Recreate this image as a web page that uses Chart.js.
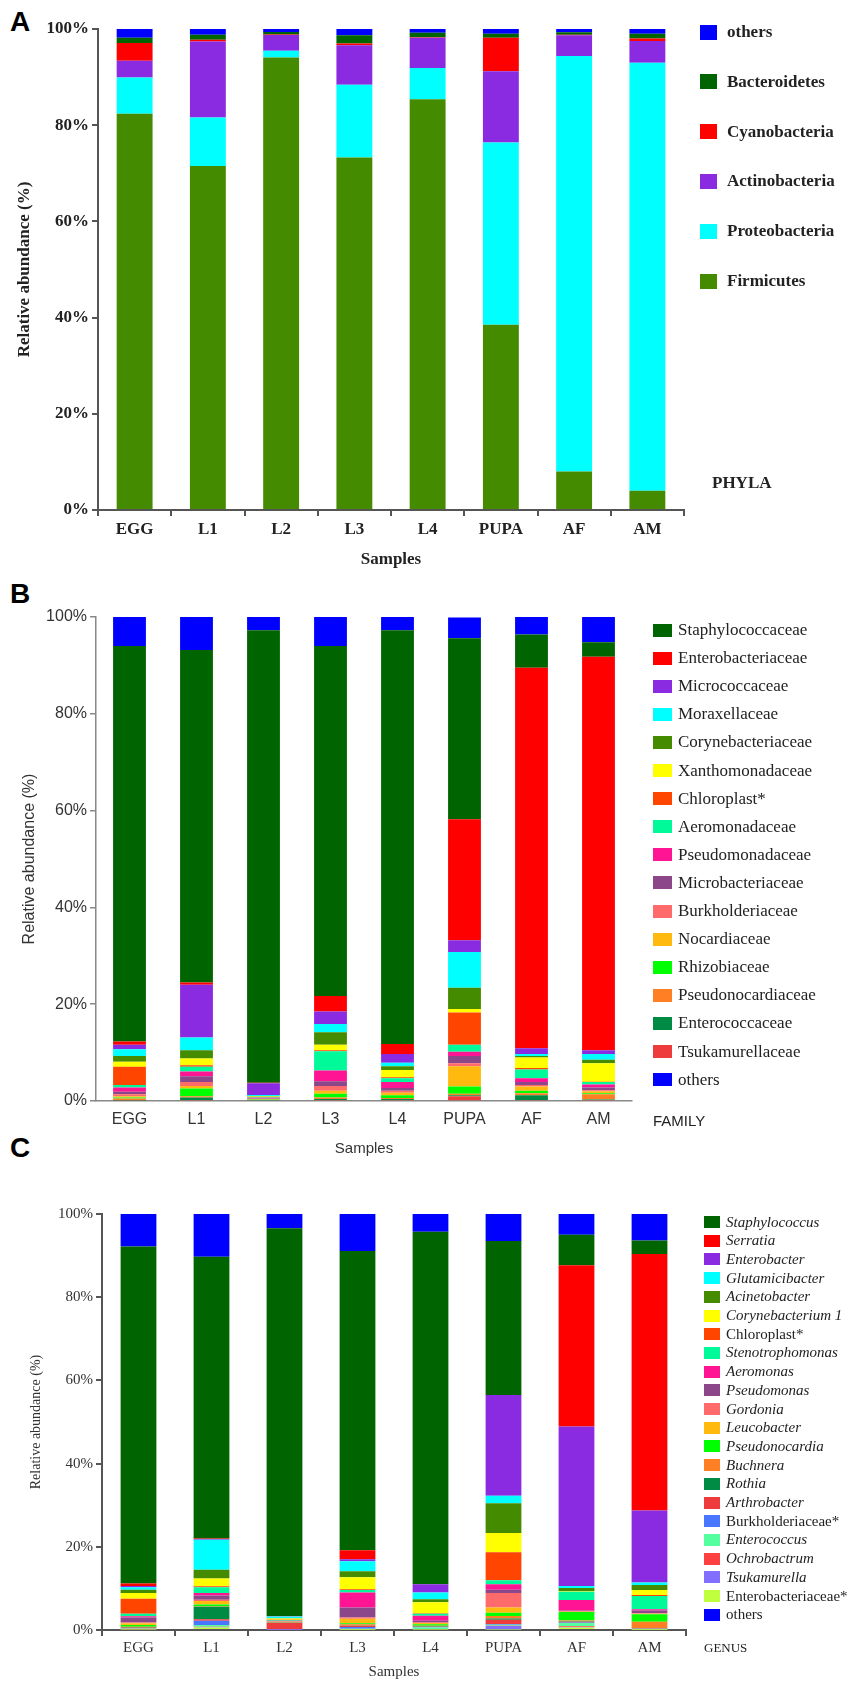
<!DOCTYPE html>
<html>
<head>
<meta charset="utf-8">
<script src="https://cdn.jsdelivr.net/npm/chart.js@4.4.0/dist/chart.umd.min.js"></script>
<style>
  body { margin: 0; width: 854px; height: 1683px; position: relative; background: #fff; overflow: hidden; }
  canvas { position: absolute; left: 0; }
  .letter { position: absolute; left: 10px; font: bold 28px 'Liberation Sans', Arial, sans-serif; color: #000; }
  .item { position: absolute; white-space: nowrap; display: flex; align-items: center; color: #222; }
  .sw { display: inline-block; flex: none; }
  .tag { position: absolute; white-space: nowrap; color: #222; }
</style>
</head>
<body>
<div class="letter" style="top:6px">A</div>
<div class="letter" style="top:578px">B</div>
<div class="letter" style="top:1132px">C</div>

<canvas id="chartA" width="854" height="572" style="top:0px"></canvas>
<canvas id="chartB" width="854" height="580" style="top:580px"></canvas>
<canvas id="chartC" width="854" height="518" style="top:1165px"></canvas>

<div class="tag" style="left:712px; top:473px; font: bold 17px 'Liberation Serif', serif;">PHYLA</div>
<div class="tag" style="left:653px; top:1112px; font: 15px 'Liberation Sans', Arial, sans-serif;">FAMILY</div>
<div class="tag" style="left:704px; top:1640px; font: 13px 'Liberation Serif', serif;">GENUS</div>

<script>
const samples = ['EGG', 'L1', 'L2', 'L3', 'L4', 'PUPA', 'AF', 'AM'];
const percentTicks = [0, 20, 40, 60, 80, 100];

// A - phyla
const firmicutes     = [82.4, 71.5, 94.1, 73.3, 85.4, 38.5, 8.0, 4.0];
const proteobacteria = [7.5, 10.1, 1.4, 15.1, 6.5, 37.9, 86.4, 89.0];
const actinobacteria = [3.5, 15.8, 3.25, 8.2, 6.3, 14.8, 4.3, 4.5];
const cyanobacteria  = [3.7, 0.35, 0.1, 0.4, 0.1, 7.0, 0.1, 0.5];
const bacteroidetes  = [1.1, 1.05, 0.55, 1.7, 0.9, 0.8, 0.5, 1.0];
const phylaOthers    = [1.8, 1.2, 0.6, 1.3, 0.8, 1.0, 0.7, 1.0];

// B - families
const staphylococcaceae  = [81.7, 68.7, 93.5, 72.3, 85.45, 37.4, 6.9, 3.0];
const enterobacteriaceae = [0.7, 0.5, 0.1, 3.2, 2.1, 25.0, 78.6, 81.3];
const micrococcaceae     = [0.9, 10.9, 2.4, 2.6, 1.8, 2.4, 1.2, 0.8];
const moraxellaceae      = [1.4, 2.6, 0.2, 1.7, 0.7, 7.4, 0.4, 1.2];
const corynebacteriaceae = [1.2, 1.7, 0.1, 2.6, 0.8, 4.4, 0.3, 0.7];
const xanthomonadaceae   = [1.0, 1.4, 0.1, 1.1, 1.5, 0.7, 2.2, 3.8];
const chloroplastFam     = [3.8, 0.3, 0.1, 0.2, 0.2, 6.7, 0.3, 0.1];
const aeromonadaceae     = [0.5, 1.0, 0.1, 4.0, 0.8, 1.4, 1.8, 0.5];
const pseudomonadaceae   = [0.9, 1.0, 0.1, 2.2, 1.2, 0.9, 0.8, 0.6];
const microbacteriaceae  = [0.5, 1.2, 0.1, 1.0, 0.6, 1.5, 0.6, 0.6];
const burkholderiaceae   = [0.4, 0.8, 0.05, 1.0, 0.4, 0.6, 0.3, 0.2];
const nocardiaceae       = [0.3, 0.5, 0.05, 0.6, 0.5, 4.2, 0.9, 0.4];
const rhizobiaceae       = [0.2, 1.6, 0.1, 0.8, 0.6, 1.5, 0.5, 0.2];
const pseudonocardiaceae = [0.3, 0.3, 0.05, 0.3, 0.2, 0.3, 0.4, 1.1];
const enterococcaceae    = [0.1, 0.5, 0.05, 0.2, 0.2, 0.2, 1.0, 0.1];
const tsukamurellaceae   = [0.1, 0.2, 0.15, 0.2, 0.2, 1.0, 0.2, 0.2];
const familyOthers       = [6.0, 6.8, 2.75, 6.0, 2.75, 4.3, 3.6, 5.2];

// C - genera
const staphylococcus    = [81.0, 67.7, 93.25, 71.9, 84.75, 37.0, 7.3, 3.2];
const serratia          = [0.6, 0.1, 0.05, 2.2, 0.0, 0.0, 38.8, 61.7];
const enterobacter      = [0.3, 0.2, 0.05, 0.5, 2.0, 24.2, 38.3, 17.3];
const glutamicibacter   = [0.6, 7.2, 0.4, 2.4, 1.6, 1.85, 0.5, 0.6];
const acinetobacter     = [0.8, 2.1, 0.1, 1.4, 0.7, 7.15, 0.8, 1.2];
const corynebacterium1  = [1.4, 1.9, 0.3, 2.9, 2.7, 4.6, 0.1, 1.2];
const chloroplastGen    = [3.6, 0.2, 0.05, 0.2, 0.1, 6.75, 0.0, 0.2];
const stenotrophomonas  = [0.6, 1.4, 0.2, 0.6, 0.5, 0.95, 2.0, 3.2];
const aeromonas         = [0.3, 0.6, 0.1, 3.6, 1.2, 1.35, 2.5, 0.3];
const pseudomonas       = [1.2, 1.0, 0.05, 2.4, 0.4, 0.75, 0.2, 0.7];
const gordonia          = [0.2, 0.3, 0.05, 0.3, 0.1, 3.5, 0.1, 0.1];
const leucobacter       = [0.4, 0.9, 0.05, 1.1, 0.3, 1.25, 0.1, 0.1];
const pseudonocardia    = [0.4, 0.4, 0.1, 0.2, 0.4, 0.8, 2.0, 1.8];
const buchnera          = [0.1, 0.1, 0.05, 0.3, 0.1, 0.6, 0.2, 1.6];
const rothia            = [0.1, 3.0, 0.05, 0.1, 0.1, 0.3, 0.1, 0.05];
const arthrobacter      = [0.1, 0.4, 1.6, 0.3, 0.1, 1.0, 0.2, 0.05];
const burkholderiaceaeG = [0.1, 1.0, 0.05, 0.4, 0.1, 0.2, 0.1, 0.05];
const enterococcus      = [0.1, 0.4, 0.05, 0.1, 0.4, 0.2, 0.8, 0.1];
const ochrobactrum      = [0.1, 0.1, 0.0, 0.05, 0.05, 0.1, 0.2, 0.05];
const tsukamurella      = [0.1, 0.1, 0.05, 0.1, 0.05, 0.8, 0.1, 0.05];
const enterobacteriaceaeG = [0.1, 0.6, 0.0, 0.05, 0.1, 0.15, 0.6, 0.05];
const genusOthers       = [7.9, 10.3, 3.4, 8.9, 4.25, 6.5, 5.0, 6.4];

// series lists, top of stack first (same order as the legends)
const phylaNames  = ['others', 'Bacteroidetes', 'Cyanobacteria', 'Actinobacteria', 'Proteobacteria', 'Firmicutes'];
const phylaColors = ['#0000ff', '#006400', '#ff0000', '#8a2be2', '#00ffff', '#458b00'];
const phylaData   = [phylaOthers, bacteroidetes, cyanobacteria, actinobacteria, proteobacteria, firmicutes];

const familyNames = ['Staphylococcaceae', 'Enterobacteriaceae', 'Micrococcaceae', 'Moraxellaceae', 'Corynebacteriaceae',
  'Xanthomonadaceae', 'Chloroplast*', 'Aeromonadaceae', 'Pseudomonadaceae', 'Microbacteriaceae', 'Burkholderiaceae',
  'Nocardiaceae', 'Rhizobiaceae', 'Pseudonocardiaceae', 'Enterococcaceae', 'Tsukamurellaceae', 'others'];
const familyColors = ['#006400', '#ff0000', '#8a2be2', '#00ffff', '#458b00', '#ffff00', '#ff4500', '#00fa9a', '#ff1493',
  '#8b4789', '#ff6a6a', '#ffb90f', '#00ff00', '#ff7f24', '#008b45', '#ee3b3b', '#0000ff'];
const familyData = [staphylococcaceae, enterobacteriaceae, micrococcaceae, moraxellaceae, corynebacteriaceae,
  xanthomonadaceae, chloroplastFam, aeromonadaceae, pseudomonadaceae, microbacteriaceae, burkholderiaceae,
  nocardiaceae, rhizobiaceae, pseudonocardiaceae, enterococcaceae, tsukamurellaceae, familyOthers];
// stack order for B: others on top, then the legend order
const familyStackTop = [16, 0, 1, 2, 3, 4, 5, 6, 7, 8, 9, 10, 11, 12, 13, 14, 15];

const genusNames = ['Staphylococcus', 'Serratia', 'Enterobacter', 'Glutamicibacter', 'Acinetobacter', 'Corynebacterium 1',
  'Chloroplast*', 'Stenotrophomonas', 'Aeromonas', 'Pseudomonas', 'Gordonia', 'Leucobacter', 'Pseudonocardia',
  'Buchnera', 'Rothia', 'Arthrobacter', 'Burkholderiaceae*', 'Enterococcus', 'Ochrobactrum', 'Tsukamurella',
  'Enterobacteriaceae*', 'others'];
const genusColors = ['#006400', '#ff0000', '#8a2be2', '#00ffff', '#458b00', '#ffff00', '#ff4500', '#00fa9a', '#ff1493',
  '#8b4789', '#ff6a6a', '#ffb90f', '#00ff00', '#ff7f24', '#008b45', '#ee3b3b', '#4876ff', '#54ff9f', '#ff4040',
  '#836fff', '#c0ff3e', '#0000ff'];
const genusData = [staphylococcus, serratia, enterobacter, glutamicibacter, acinetobacter, corynebacterium1,
  chloroplastGen, stenotrophomonas, aeromonas, pseudomonas, gordonia, leucobacter, pseudonocardia, buchnera, rothia,
  arthrobacter, burkholderiaceaeG, enterococcus, ochrobactrum, tsukamurella, enterobacteriaceaeG, genusOthers];
const genusStackTop = [21, 0, 1, 2, 3, 4, 5, 6, 7, 8, 9, 10, 11, 12, 13, 14, 15, 16, 17, 18, 19, 20];
const genusUpright = ['Chloroplast*', 'Burkholderiaceae*', 'Enterobacteriaceae*', 'others'];

Chart.defaults.animation = false;

// bottom of the stack is the first dataset
function buildSets(names, colors, data, topOrder) {
  const order = topOrder || names.map((_, i) => i);
  return order.slice().reverse().map(i => ({
    label: names[i],
    data: data[i],
    backgroundColor: colors[i],
    borderWidth: 0,
    barPercentage: 0.49,
    categoryPercentage: 1.0
  }));
}

function makeChart(id, datasets, s) {
  return new Chart(document.getElementById(id), {
    type: 'bar',
    data: { labels: samples, datasets: datasets },
    options: {
      responsive: false,
      devicePixelRatio: 1,
      layout: { padding: { top: s.top, right: s.right, left: s.left, bottom: 0 } },
      plugins: { legend: { display: false }, tooltip: { enabled: false } },
      scales: {
        x: {
          stacked: true,
          afterFit: a => { a.height = s.xHeight; },
          grid: { display: true, drawOnChartArea: false, drawTicks: s.xTicks, tickLength: 6, color: s.axisColor, lineWidth: s.axisWidth },
          border: { display: true, color: s.axisColor, width: s.axisWidth },
          ticks: { color: s.textColor, font: s.tickFont, padding: s.xTicks ? 3 : 9 },
          title: { display: true, text: 'Samples', color: s.textColor, font: s.titleFont, padding: { top: 0, bottom: 2 } }
        },
        y: {
          stacked: true,
          min: 0, max: 100,
          afterFit: a => { a.width = s.yWidth; },
          afterBuildTicks: a => { a.ticks = percentTicks.map(v => ({ value: v })); },
          grid: { display: true, drawOnChartArea: false, drawTicks: true, tickLength: 6, color: s.axisColor, lineWidth: s.axisWidth },
          border: { display: true, color: s.axisColor, width: s.axisWidth },
          ticks: { color: s.textColor, font: s.tickFont, padding: 3, callback: v => v + '%' },
          title: { display: true, text: 'Relative abundance (%)', color: s.textColor, font: s.yTitleFont, padding: 2 }
        }
      }
    }
  });
}

function drawLegend(names, colors, s) {
  names.forEach((n, i) => {
    const el = document.createElement('div');
    el.className = 'item';
    el.style.left = s.x + 'px';
    el.style.top = (s.y0 + i * s.step - 10) + 'px';
    el.style.height = '20px';
    el.style.font = s.font;
    if (s.italic && !s.italic(n)) el.style.fontStyle = 'normal';
    const sw = document.createElement('span');
    sw.className = 'sw';
    sw.style.width = s.sw + 'px';
    sw.style.height = s.sh + 'px';
    sw.style.background = colors[i];
    sw.style.marginRight = s.gap + 'px';
    el.appendChild(sw);
    el.appendChild(document.createTextNode(n));
    document.body.appendChild(el);
  });
}

const serif = "'Liberation Serif', 'Times New Roman', serif";
const sans = "'Liberation Sans', Arial, sans-serif";

makeChart('chartA', buildSets(phylaNames, phylaColors, phylaData), {
  top: 29, right: 170, left: 12, yWidth: 86, xHeight: 62, xTicks: true,
  axisColor: '#555', axisWidth: 2, textColor: '#222',
  tickFont: { family: serif, size: 17, weight: 'bold' },
  titleFont: { family: serif, size: 17, weight: 'bold' },
  yTitleFont: { family: serif, size: 17, weight: 'bold' }
});

makeChart('chartB', buildSets(familyNames, familyColors, familyData, familyStackTop), {
  top: 37, right: 222, left: 18, yWidth: 78, xHeight: 59, xTicks: false,
  axisColor: '#888', axisWidth: 1.5, textColor: '#333',
  tickFont: { family: sans, size: 16 },
  titleFont: { family: sans, size: 15 },
  yTitleFont: { family: sans, size: 16 }
});

makeChart('chartC', buildSets(genusNames, genusColors, genusData, genusStackTop), {
  top: 49, right: 168, left: 26, yWidth: 76, xHeight: 53, xTicks: true,
  axisColor: '#555', axisWidth: 2, textColor: '#333',
  tickFont: { family: serif, size: 15 },
  titleFont: { family: serif, size: 15 },
  yTitleFont: { family: serif, size: 14 }
});

drawLegend(phylaNames, phylaColors, {
  x: 700, y0: 32, step: 49.8, sw: 17, sh: 15, gap: 10,
  font: "bold 17px " + serif
});
drawLegend(familyNames, familyColors, {
  x: 653, y0: 630, step: 28.1, sw: 19, sh: 13, gap: 6,
  font: "17px " + serif
});
drawLegend(genusNames, genusColors, {
  x: 704, y0: 1222, step: 18.7, sw: 16, sh: 12, gap: 6,
  font: "italic 15px " + serif,
  italic: n => genusUpright.indexOf(n) < 0
});
</script>
</body>
</html>
